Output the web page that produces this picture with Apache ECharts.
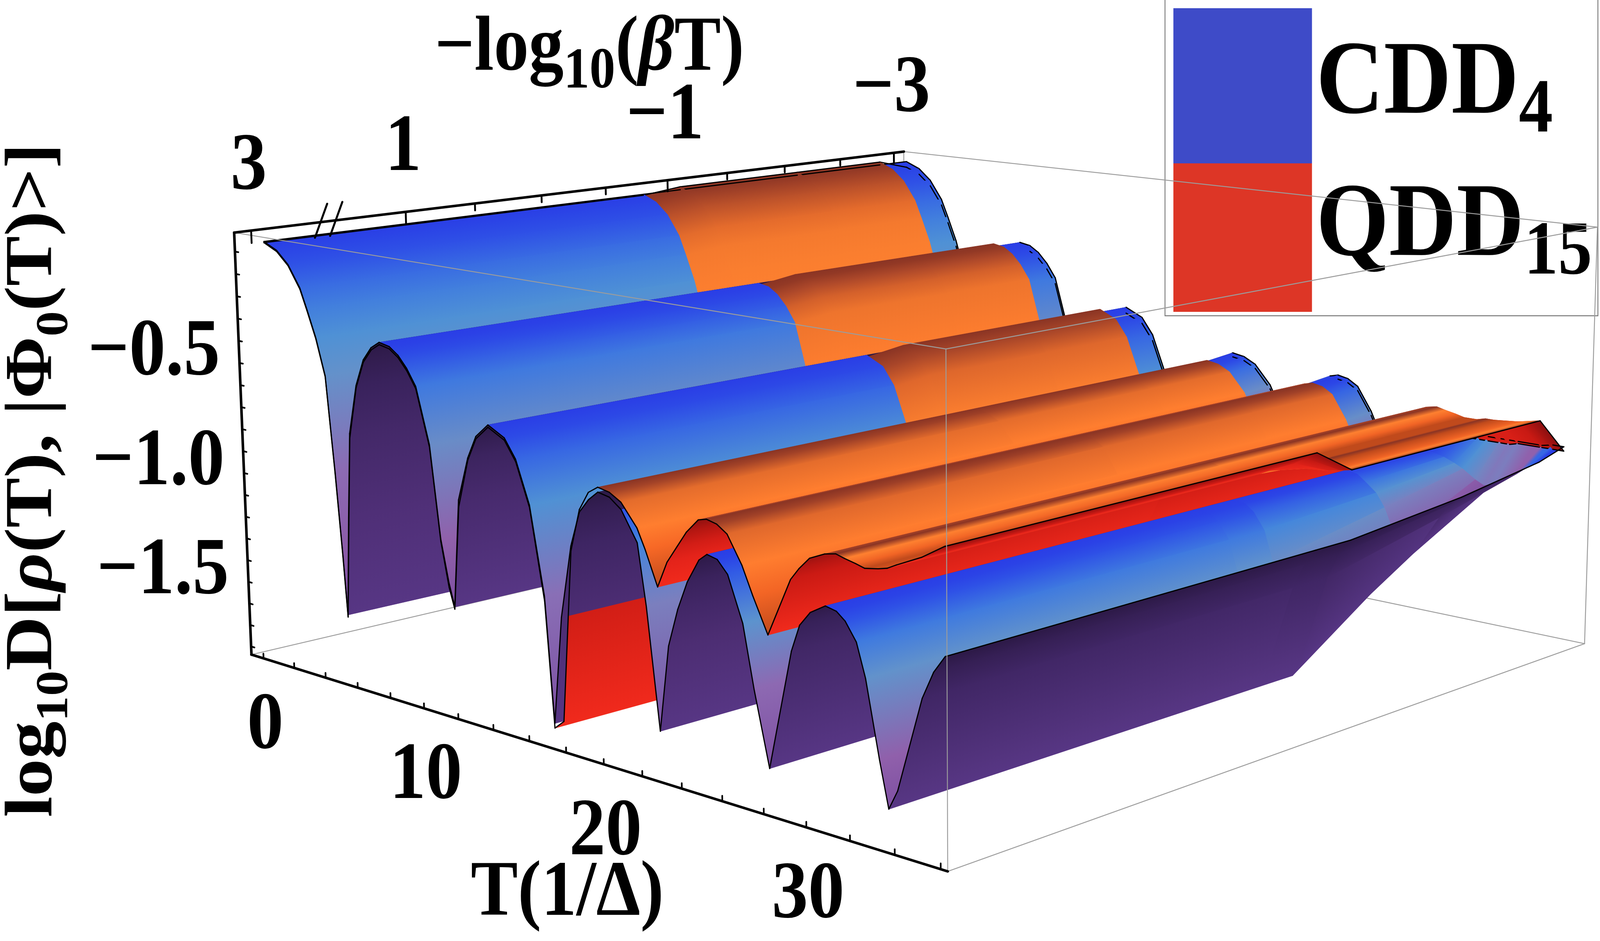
<!DOCTYPE html>
<html>
<head>
<meta charset="utf-8">
<script src="https://cdn.jsdelivr.net/npm/echarts@6/dist/echarts.min.js"></script>
<style>
html,body{margin:0;padding:0;background:#ffffff;overflow:hidden;width:100%;height:100%;}
#chart{width:100vw;height:100vh;}
</style>
</head>
<body>
<div id="chart"></div>
<script>
// ===================== DATA =====================
const tGrid = [0, 0.8, 1.5, 2.2, 2.6, 3.1, 3.6, 4.0, 4.3, 4.5, 4.75, 5.0, 5.5, 6.0, 6.5, 7.0, 7.6, 8.1, 8.6, 9.1,
  9.8, 10.3, 10.7, 11.0, 11.4, 12.0, 12.5, 13.2, 14.1, 14.7, 15.4, 16.1, 16.5, 17.0, 17.6, 18.1, 18.6, 19.1, 19.7, 20.3,
  21.1, 21.5, 22.1, 22.6, 23.1, 23.6, 24.2, 24.6, 25.1, 25.6, 26.3, 26.8, 27.5, 28.6, 29.0, 29.5, 30.2, 30.7, 31.1, 31.6,
  32.0, 32.6, 33.0, 33.4, 34.5, 35.0, 35.5];
const bSlices = [3, -0.7, -1.0, -2.0, -2.75, -3];

// CDD4
const cddFront = [0.045, 0.015, -0.04, -0.135, -0.225, -0.345, -0.505, -0.92, -1.28, -1.56,
  -1.12, -0.74, -0.52, -0.40, -0.34, -0.31, -0.32, -0.35, -0.40, -0.47,
  -0.71, -1.11, -1.29, -1.39, -0.92, -0.73, -0.63, -0.57, -0.61, -0.69,
  -0.87, -1.24, -1.77, -1.31, -1.00, -0.85, -0.79, -0.75, -0.76, -0.80,
  -0.92, -1.17, -1.67, -1.31, -1.15, -1.03, -0.93, -0.90, -0.91, -0.96,
  -1.14, -1.39, -1.69, -1.20, -1.09, -1.03, -0.99, -1.00, -1.03, -1.10,
  -1.23, -1.53, -1.71, -1.63, -1.25, -1.14, -1.07];
const cddMid = [0.045, 0.015, -0.04, -0.135, -0.225, -0.345, -0.505, -0.92, -1.28, -1.56,
  -1.12, -0.74, -0.52, -0.40, -0.34, -0.31, -0.32, -0.35, -0.40, -0.47,
  -0.71, -1.11, -1.29, -1.39, -0.92, -0.73, -0.63, -0.57, -0.61, -0.69,
  -0.87, -1.24, -1.77, -1.31, -1.00, -0.85, -0.79, -0.75, -0.76, -0.80,
  -0.92, -1.17, -1.67, -1.31, -1.15, -1.03, -0.93, -0.90, -0.91, -0.96,
  -1.14, -1.39, -1.69, -1.20, -1.09, -1.03, -0.99, -1.00, -1.03, -1.07,
  -1.13, -1.27, -1.34, -1.31, -1.13, -1.06, -1.02];
const cddLate = [0.045, 0.015, -0.04, -0.135, -0.225, -0.345, -0.505, -0.92, -1.28, -1.56,
  -1.12, -0.74, -0.52, -0.40, -0.34, -0.31, -0.32, -0.35, -0.40, -0.47,
  -0.71, -1.11, -1.29, -1.39, -0.92, -0.73, -0.63, -0.57, -0.61, -0.69,
  -0.87, -1.24, -1.77, -1.755, -1.025, -0.845, -0.765, -0.735, -0.745, -0.775,
  -0.865, -0.945, -1.085, -0.975, -0.905, -0.835, -0.775, -0.765, -0.775, -0.805,
  -0.915, -1.025, -1.165, -1.20, -1.09, -1.03, -0.99, -1.00, -1.01, -1.03,
  -1.05, -1.09, -1.11, -1.10, -1.03, -0.99, -0.96];
const cddEnd = [0.045, 0.015, -0.04, -0.135, -0.225, -0.345, -0.505, -0.92, -1.28, -1.56,
  -1.12, -0.74, -0.52, -0.40, -0.34, -0.31, -0.32, -0.35, -0.40, -0.47,
  -0.71, -1.11, -1.29, -1.39, -0.92, -0.73, -0.63, -0.57, -0.61, -0.69,
  -0.87, -1.24, -1.77, -1.74, -1.01, -0.83, -0.75, -0.72, -0.73, -0.76,
  -0.85, -0.93, -1.07, -0.96, -0.89, -0.82, -0.76, -0.75, -0.76, -0.79,
  -0.90, -1.01, -1.15, -0.95, -0.94, -0.93, -0.93, -0.93, -0.93, -0.93,
  -0.93, -0.93, -0.93, -0.93, -0.93, -0.92, -0.92];

// QDD15
const qddFront = [0.04, 0.01, -0.045, -0.14, -0.23, -0.35, -0.51, -0.93, -1.29, -1.57,
  -1.15, -0.76, -0.53, -0.41, -0.35, -0.32, -0.33, -0.36, -0.41, -0.48,
  -0.72, -1.12, -1.31, -1.40, -0.95, -0.74, -0.64, -0.58, -0.62, -0.70,
  -0.88, -1.26, -1.79, -1.75, -1.02, -0.84, -0.76, -0.73, -0.74, -0.77,
  -0.86, -0.94, -1.08, -0.97, -0.90, -0.83, -0.77, -0.76, -0.77, -0.80,
  -0.91, -1.02, -1.16, -0.92, -0.87, -0.82, -0.79, -0.78, -0.79, -0.80,
  -0.81, -0.80, -0.79, -0.77, -0.72, -0.69, -0.66];
const qddBack = [0.06, 0.03, -0.025, -0.12, -0.21, -0.33, -0.49, -0.905, -1.265, -1.54,
  -1.10, -0.72, -0.505, -0.385, -0.325, -0.295, -0.305, -0.335, -0.385, -0.455,
  -0.695, -1.09, -1.27, -1.37, -0.905, -0.715, -0.615, -0.555, -0.595, -0.675,
  -0.855, -1.26, -1.79, -1.75, -1.02, -0.84, -0.76, -0.73, -0.74, -0.77,
  -0.86, -0.94, -1.08, -0.97, -0.90, -0.83, -0.77, -0.76, -0.77, -0.80,
  -0.91, -1.02, -1.16, -0.92, -0.87, -0.82, -0.79, -0.78, -0.79, -0.80,
  -0.81, -0.81, -0.80, -0.80, -0.79, -0.78, -0.77];
const qddEnd = [0.015, -0.015, -0.07, -0.165, -0.255, -0.375, -0.535, -0.95, -1.31, -1.59,
  -1.15, -0.77, -0.55, -0.43, -0.37, -0.34, -0.35, -0.38, -0.43, -0.50,
  -0.74, -1.14, -1.32, -1.42, -0.95, -0.76, -0.66, -0.60, -0.64, -0.72,
  -0.90, -1.27, -1.80, -1.76, -1.03, -0.85, -0.77, -0.74, -0.75, -0.78,
  -0.87, -0.95, -1.09, -0.98, -0.91, -0.84, -0.78, -0.77, -0.78, -0.81,
  -0.92, -1.03, -1.17, -0.96, -0.95, -0.95, -0.95, -0.95, -0.95, -0.95,
  -0.95, -0.95, -0.95, -0.94, -0.94, -0.94, -0.94];

const cddSlices = [cddFront, cddFront, cddFront, cddMid, cddLate, cddEnd];
const qddSlices = [qddFront, qddFront, qddBack, qddBack, qddBack, qddEnd];

const tTicks = [0, 2, 4, 6, 8, 10, 12, 14, 16, 18, 20, 22, 24, 26, 28, 30, 32, 34, 36];
const tLabels = [0, 10, 20, 30];
const bTicks = [3, 1, 0.5, 0, -0.5, -1, -1.5, -2, -2.5, -3];
const bMajor = [3, 1, -1, -3];
const zTicks = [0, -0.1, -0.2, -0.3, -0.4, -0.5, -0.6, -0.7, -0.8, -0.9, -1.0, -1.1, -1.2, -1.3, -1.4, -1.5, -1.6, -1.7, -1.8];
const zLabels = [-0.5, -1.0, -1.5];

// ===================== 3D FRAME / PROJECTION (design space 4583 x 2408) =====================
const DW = 4583, DH = 2408;
const BOX = {t0: -0.8, t1: 36.3, y0: -2.16, y1: 3.094, z0: -1.838, z1: 0.085};
function bPos(b) { return b <= 1 ? -b : -1 - (b - 1) * 0.525; }
const frameAnchors = [
  [-0.8, -2.16, 0.085, 676, 593], [-0.8, -2.16, -1.838, 720, 1678],
  [36.3, -2.16, -1.838, 2719, 2236], [36.3, -2.16, 0.085, 2708, 893],
  [-0.8, 3.094, 0.085, 2592, 388], [36.3, 3.094, -1.838, 4537, 1646],
  [10, -2.16, -1.838, 1212, 1809], [20, -2.16, -1.838, 1728, 1952], [30, -2.16, -1.838, 2311, 2116],
  [-0.8, -1, 0.085, 1154, 544], [-0.8, 1, 0.085, 1907, 462], [-0.8, 3, 0.085, 2563, 391],
  [-0.8, -2.16, -0.5, 690, 927], [-0.8, -2.16, -1.5, 712, 1491]
];
function norm3(T, Y, Z) {
  return [(T - BOX.t0) / (BOX.t1 - BOX.t0), (Y - BOX.y0) / (BOX.y1 - BOX.y0), (Z - BOX.z0) / (BOX.z1 - BOX.z0)];
}
function solveLin(A, b) {
  const n = b.length; const M = A.map((r, i) => r.concat([b[i]]));
  for (let c = 0; c < n; c++) {
    let p = c;
    for (let r = c + 1; r < n; r++) if (Math.abs(M[r][c]) > Math.abs(M[p][c])) p = r;
    const tmp = M[c]; M[c] = M[p]; M[p] = tmp;
    for (let r = 0; r < n; r++) {
      if (r === c) continue;
      const f = M[r][c] / M[c][c];
      for (let k = c; k <= n; k++) M[r][k] -= f * M[c][k];
    }
  }
  return M.map((r, i) => r[n] / r[i]);
}
const CAM = (function () {
  const rows = [], rhs = [];
  frameAnchors.forEach(a => {
    const [X, Y, Z] = norm3(a[0], a[1], a[2]); const x = a[3] / 1000, y = a[4] / 1000;
    rows.push([X, Y, Z, 1, 0, 0, 0, 0, -x * X, -x * Y, -x * Z]); rhs.push(x);
    rows.push([0, 0, 0, 0, X, Y, Z, 1, -y * X, -y * Y, -y * Z]); rhs.push(y);
  });
  const AtA = Array.from({length: 11}, () => new Array(11).fill(0)); const Atb = new Array(11).fill(0);
  rows.forEach((r, k) => { for (let i = 0; i < 11; i++) { Atb[i] += r[i] * rhs[k]; for (let j = 0; j < 11; j++) AtA[i][j] += r[i] * r[j]; } });
  return solveLin(AtA, Atb);
})();
function proj(T, Y, Z) {
  const [X, Yn, Zn] = norm3(T, Y, Z);
  const w = CAM[8] * X + CAM[9] * Yn + CAM[10] * Zn + 1;
  return [1000 * (CAM[0] * X + CAM[1] * Yn + CAM[2] * Zn + CAM[3]) / w,
          1000 * (CAM[4] * X + CAM[5] * Yn + CAM[6] * Zn + CAM[7]) / w];
}
function area2(pts) { let s = 0; for (let i = 0; i < pts.length; i++) { const a = pts[i], b = pts[(i + 1) % pts.length]; s += a[0] * b[1] - b[0] * a[1]; } return s; }

// ===================== SHADING =====================
const RAMPS = {
  cddTop: [[0, '#2a3ee6'], [0.05, '#2e50e6'], [0.12, '#3a70e2'], [0.22, '#4a90d8'], [0.32, '#5f94cc'], [0.45, '#7a80bf'], [0.58, '#8c6cb4'], [0.75, '#9060ab'], [1, '#7e50a2']],
  cddUnder: [[0, '#2c1946'], [0.2, '#3c2460'], [0.5, '#4b2c71'], [1, '#573684']],
  qddTop: [[0, '#8a3424'], [0.04, '#b04a2a'], [0.1, '#e0682c'], [0.18, '#f77c2e'], [0.35, '#ff8030'], [0.55, '#fb6c27'], [0.8, '#e65a22'], [1, '#c04a1c']],
  qddUnder: [[0, '#8a1010'], [0.3, '#c41812'], [0.6, '#e2221a'], [1, '#f02a1c']]
};
function hexRgb(h) { return [parseInt(h.substr(1, 2), 16), parseInt(h.substr(3, 2), 16), parseInt(h.substr(5, 2), 16)]; }
function ramp(stops, t) {
  t = Math.max(stops[0][0], Math.min(stops[stops.length - 1][0], t));
  for (let k = 0; k < stops.length - 1; k++) {
    const a = stops[k], b = stops[k + 1];
    if (t >= a[0] && t <= b[0]) {
      const f = (t - a[0]) / (b[0] - a[0] || 1); const ca = hexRgb(a[1]), cb = hexRgb(b[1]);
      return 'rgb(' + ca.map((v, i) => Math.round(v + (cb[i] - v) * f)).join(',') + ')';
    }
  }
  return stops[stops.length - 1][1];
}
function dropOf(z) {
  const n = z.length, mins = [0];
  for (let k = 1; k < n - 1; k++) if (z[k] <= z[k - 1] && z[k] < z[k + 1]) mins.push(k);
  mins.push(n - 1);
  const s = new Array(n).fill(0);
  for (let m = 0; m < mins.length - 1; m++) {
    const a = mins[m], b = mins[m + 1];
    let p = a; for (let k = a; k <= b; k++) if (z[k] > z[p]) p = k;
    for (let k = a; k <= b; k++) {
      const base = k <= p ? z[a] : z[b]; const den = z[p] - base;
      const v = den > 1e-6 ? Math.max(0, Math.min(1, (z[p] - z[k]) / den)) : 0;
      s[k] = (k === a && m > 0) ? Math.max(s[k], v) : v;
    }
  }
  return s;
}

// ===================== DRAW LIST =====================
const items = [];
const GRAY = '#9c9c9c';
function addLine(p3, color, w) { items.push({k: 'line', p: p3, c: color, w: w}); }
function addSLine(px, color, w) { items.push({k: 'sline', p: px, c: color, w: w}); }

addLine([[BOX.t0, BOX.y0, BOX.z0], [BOX.t0, BOX.y1, BOX.z0]], GRAY, 2.5);
addLine([[BOX.t0, BOX.y1, BOX.z0], [BOX.t1, BOX.y1, BOX.z0]], GRAY, 2.5);
addLine([[BOX.t0, BOX.y1, BOX.z0], [BOX.t0, BOX.y1, BOX.z1]], GRAY, 2.5);

const surf = {cdd: cddSlices, qdd: qddSlices};
const drops = {cdd: cddSlices.map(dropOf), qdd: qddSlices.map(dropOf)};
const nT = tGrid.length, nB = bSlices.length;
function P3(s, i, j) { return [tGrid[i], bPos(bSlices[j]), surf[s][j][i]]; }
const topRef = area2([proj(BOX.t0, BOX.y0, BOX.z1), proj(BOX.t1, BOX.y0, BOX.z1), proj(BOX.t1, BOX.y1, BOX.z1), proj(BOX.t0, BOX.y1, BOX.z1)]);
function quad(s, i, j) {
  const p = [P3(s, i, j), P3(s, i + 1, j), P3(s, i + 1, j + 1), P3(s, i, j + 1)];
  const front = area2(p.map(q => proj(q[0], q[1], q[2]))) * topRef > 0;
  const d0 = (drops[s][j][i] + drops[s][j + 1][i]) / 2;
  const d1 = (drops[s][j][i + 1] + drops[s][j + 1][i + 1]) / 2;
  const st = RAMPS[s + (front ? 'Top' : 'Under')];
  return {s: s, p: p, front: front, c0: ramp(st, d0), c1: ramp(st, d1), zm: (p[0][2] + p[1][2] + p[2][2] + p[3][2]) / 4};
}
for (let i = 0; i < nT - 1; i++) {
  for (let j = nB - 2; j >= 0; j--) {
    const qc = quad('cdd', i, j), qq = quad('qdd', i, j);
    let gap = 0; for (let v = 0; v < 4; v++) gap = Math.max(gap, Math.abs(qc.p[v][2] - qq.p[v][2]));
    const close = gap < 0.05;
    let qs;
    if (!qc.front && !qq.front) qs = close ? [qc] : [qq, qc];
    else if (qc.front && qq.front && close) qs = [qc.zm >= qq.zm ? qc : qq];
    else qs = [qc, qq].sort((a, b) => a.zm - b.zm);
    qs.forEach(q => items.push({k: 'poly', p: q.p, c0: q.c0, c1: q.c1}));
    ['cdd', 'qdd'].forEach(s => {
      if (j === 0) addLine([P3(s, i, 0), P3(s, i + 1, 0)], '#000', 3.2);
      if (j === nB - 2) addLine([P3(s, i, nB - 1), P3(s, i + 1, nB - 1)], '#000', 3.2);
      if (i === 0) addLine([P3(s, 0, j), P3(s, 0, j + 1)], '#000', 3.2);
      if (i === nT - 2) addLine([P3(s, nT - 1, j), P3(s, nT - 1, j + 1)], '#000', 3.2);
    });
  }
}

addLine([[BOX.t0, BOX.y0, BOX.z1], [BOX.t1, BOX.y0, BOX.z1]], GRAY, 2.5);
addLine([[BOX.t1, BOX.y0, BOX.z1], [BOX.t1, BOX.y0, BOX.z0]], GRAY, 2.5);
addLine([[BOX.t1, BOX.y0, BOX.z1], [BOX.t1, BOX.y1, BOX.z1]], GRAY, 2.5);
addLine([[BOX.t1, BOX.y1, BOX.z1], [BOX.t1, BOX.y1, BOX.z0]], GRAY, 2.5);
addLine([[BOX.t1, BOX.y0, BOX.z0], [BOX.t1, BOX.y1, BOX.z0]], GRAY, 2.5);
addLine([[BOX.t0, BOX.y1, BOX.z1], [BOX.t1, BOX.y1, BOX.z1]], GRAY, 2.5);

addLine([[BOX.t0, BOX.y0, BOX.z1], [BOX.t0, BOX.y1, BOX.z1]], '#000', 7);
addLine([[BOX.t0, BOX.y0, BOX.z1], [BOX.t0, BOX.y0, BOX.z0]], '#000', 7);
addLine([[BOX.t0, BOX.y0, BOX.z0], [BOX.t1, BOX.y0, BOX.z0]], '#000', 7);
bTicks.forEach(b => {
  const L = bMajor.indexOf(b) >= 0 ? 0.056 : 0.033;
  addLine([[BOX.t0, bPos(b), BOX.z1], [BOX.t0, bPos(b), BOX.z1 - L]], '#000', 5);
});
tTicks.forEach(t => addLine([[t, BOX.y0, BOX.z0], [t, BOX.y0, BOX.z0 + 0.022]], '#000', 4.5));
zTicks.forEach(z => addLine([[BOX.t0, BOX.y0, z], [BOX.t0 + 0.22, BOX.y0, z]], '#000', 4.5));
[-1.587, -1.484].forEach(y => {
  const c = proj(BOX.t0, y, BOX.z1);
  addSLine([[c[0] + 18, c[1] - 47], [c[0] - 17, c[1] + 40]], '#000', 5.5);
});

// ===================== TEXT (design space) =====================
const FONT = 'Liberation Serif';
const texts = [];
function txt(x, y, text, size, align) {
  texts.push({type: 'text', x: x, y: y, silent: true,
    style: {text: text, fontFamily: FONT, fontWeight: 'bold', fontSize: size, fill: '#000', align: align, verticalAlign: 'middle'}});
}
bMajor.forEach(b => { const p = proj(BOX.t0, bPos(b), BOX.z1); txt(p[0] - 7, p[1] - 161, (b < 0 ? '\u2212' : '') + Math.abs(b), 208, 'center'); });
tLabels.forEach(t => { const p = proj(t, BOX.y0, BOX.z0); txt(p[0] + 5, p[1] + 176, String(t), 208, 'center'); });
zLabels.forEach(z => { const p = proj(BOX.t0, BOX.y0, z); txt(p[0] - 56, p[1] - 25, '\u2212' + Math.abs(z).toFixed(1), 208, 'right'); });
function richStyles(F, f, L) {
  const base = {fontFamily: FONT, fontWeight: 'bold', fill: '#000'};
  return {
    m: Object.assign({}, base, {fontSize: F, lineHeight: L}),
    i: Object.assign({}, base, {fontSize: F, lineHeight: L, fontStyle: 'italic'}),
    s: Object.assign({}, base, {fontSize: f, verticalAlign: 'bottom'})
  };
}
texts.push({type: 'text', x: 1245, y: 126, silent: true,
  style: {text: '{m|\u2212log}{s|10}{m|(}{i|\u03b2}{m|T)}', align: 'left', verticalAlign: 'middle', rich: richStyles(200, 148, 267)}});
txt(1625, 2289, 'T(1/\u0394)', 202, 'center');
texts.push({type: 'text', x: 97, y: 1229, rotation: Math.PI / 2, silent: true,
  style: {text: '{m|log}{s|10}{m|D[}{i|\u03c1}{m|(T), |\u03a6}{s|0}{m|(T)>]}', align: 'center', verticalAlign: 'middle', rich: richStyles(192, 130, 254)}});
texts.push({type: 'rect', silent: true, shape: {x: 3337, y: -10, width: 1240, height: 818}, style: {fill: '#fff', stroke: '#777', lineWidth: 2.5}});
texts.push({type: 'rect', silent: true, shape: {x: 3361, y: 21, width: 397, height: 397}, style: {fill: '#3e4bc8'}});
texts.push({type: 'rect', silent: true, shape: {x: 3361, y: 418, width: 397, height: 380}, style: {fill: '#dd3626'}});
texts.push({type: 'text', x: 3770, y: 219, silent: true,
  style: {text: '{m|CDD}{s|4}', align: 'left', verticalAlign: 'middle', rich: richStyles(268, 195, 328)}});
texts.push({type: 'text', x: 3770, y: 583, silent: true,
  style: {text: '{m|QDD}{s|15}', align: 'left', verticalAlign: 'middle', rich: richStyles(268, 195, 328)}});

// ===================== CHART (design space stretched onto the whole window) =====================
const chart = echarts.init(document.getElementById('chart'), null, {renderer: 'canvas'});
const SX = chart.getWidth() / DW, SY = chart.getHeight() / DH, S = (SX + SY) / 2;
chart.setOption({
  backgroundColor: '#ffffff',
  animation: false,
  grid: {left: 0, right: 0, top: 0, bottom: 0},
  xAxis: {type: 'value', min: 0, max: DW, show: false},
  yAxis: {type: 'value', min: 0, max: DH, inverse: true, show: false},
  series: [{
    type: 'custom',
    coordinateSystem: 'cartesian2d',
    progressive: 0,
    silent: true,
    clip: false,
    encode: {x: 0, y: 1},
    data: items.map((it, idx) => {
      const q = it.k === 'sline' ? it.p[0] : proj(it.p[0][0], it.p[0][1], it.p[0][2]);
      return [q[0], q[1], idx];
    }),
    renderItem: function (params, api) {
      const it = items[params.dataIndex];
      const pts = it.k === 'sline' ? it.p.map(q => api.coord(q)) : it.p.map(q => api.coord(proj(q[0], q[1], q[2])));
      if (it.k === 'poly') {
        const a = pts[0], e = [pts[3][0] - a[0], pts[3][1] - a[1]];
        const el = Math.hypot(e[0], e[1]) || 1; const nx = -e[1] / el, ny = e[0] / el;
        const dist = (pts[1][0] - a[0]) * nx + (pts[1][1] - a[1]) * ny;
        let fill = it.c0;
        if (Math.abs(dist) > 0.5 && it.c0 !== it.c1) {
          fill = new echarts.graphic.LinearGradient(a[0], a[1], a[0] + nx * dist, a[1] + ny * dist,
            [{offset: 0, color: it.c0}, {offset: 1, color: it.c1}], true);
        }
        return {type: 'polygon', z2: params.dataIndex, shape: {points: pts},
          style: {fill: fill, stroke: fill, lineWidth: 1.3 * S, lineJoin: 'round'}};
      }
      return {type: 'polyline', z2: params.dataIndex, shape: {points: pts},
        style: {fill: null, stroke: it.c, lineWidth: it.w * S, lineCap: 'round', lineJoin: 'round'}};
    }
  }],
  graphic: [{type: 'group', x: 0, y: 0, scaleX: SX, scaleY: SY, z: 100, children: texts}]
});
</script>
</body>
</html>
